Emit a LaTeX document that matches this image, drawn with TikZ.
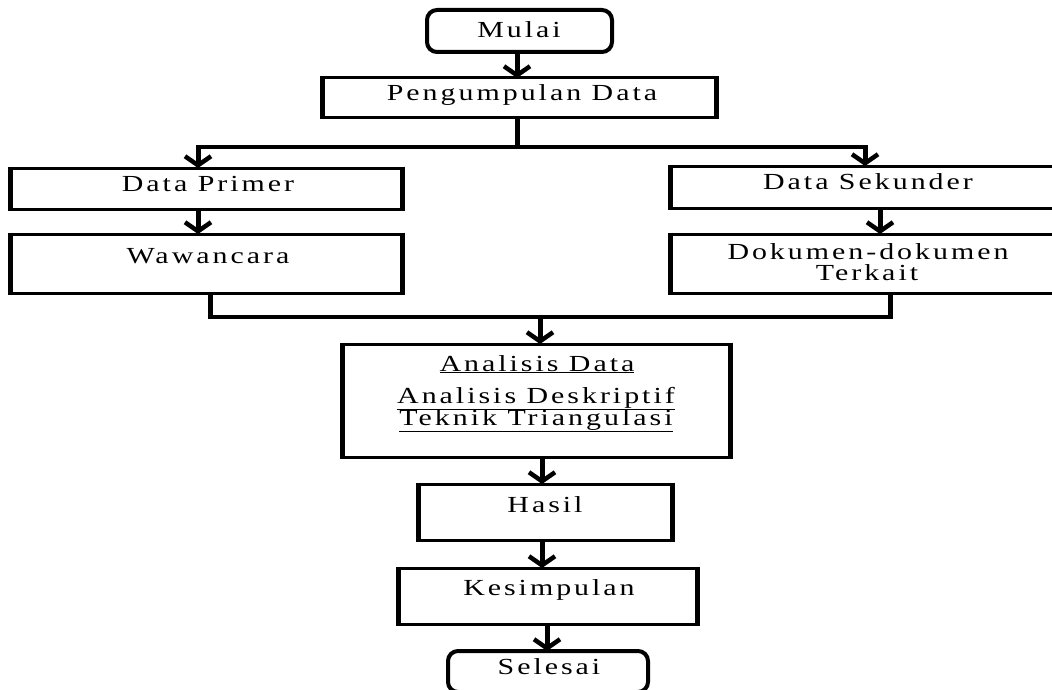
\documentclass[tikz,border=0pt]{standalone}
\usepackage{fontspec}
\usepackage{graphicx}
\setmainfont{Liberation Serif}[LetterSpace=10]
\usetikzlibrary{arrows.meta}
\newcommand\wide[1]{\scalebox{1.3}[1]{#1}}
\begin{document}
\begin{tikzpicture}[x=1pt,y=-1pt,
  box/.style={draw, line width=3pt, rectangle, inner sep=0pt, outer sep=0pt},
  rbox/.style={draw, line width=4pt, rectangle, rounded corners=10pt, inner sep=0pt, outer sep=0pt},
  vside/.style={line width=5pt},
  conn/.style={line width=3.5pt},
  vconn/.style={line width=5pt},
  arr/.style={line width=5pt, -{Straight Barb[length=9pt,width=26pt,line width=4.5pt]}},
  lbl/.style={anchor=base, font=\fontsize{23}{25}\selectfont, inner sep=0pt}]
\useasboundingbox (0,0) rectangle (1052,690);

% boxes
\node[rbox, minimum width=185pt, minimum height=42pt] (mulai) at (519.5,31) {};
\node[box, minimum width=394pt, minimum height=40pt] (peng) at (519,98) {};
\node[box, minimum width=392pt, minimum height=41pt] (prim) at (206,188.5) {};
\node[box, minimum width=392pt, minimum height=59pt] (waw) at (206,263.5) {};
\node[box, minimum width=400pt, minimum height=42pt] (sek) at (870,187) {};
\node[box, minimum width=400pt, minimum height=59pt] (dok) at (870,263.5) {};
\node[box, minimum width=388pt, minimum height=113pt] (ana) at (536,400.5) {};
\node[box, minimum width=254pt, minimum height=56pt] (has) at (545,512) {};
\node[box, minimum width=299pt, minimum height=56pt] (kes) at (547.5,596) {};
\node[rbox, minimum width=200pt, minimum height=41pt] (sel) at (548,671.5) {};

\foreach \n in {peng,prim,waw,sek,dok,ana,has,kes}
  \draw[vside] ([yshift=1.5pt]\n.north west) -- ([yshift=-1.5pt]\n.south west)
               ([yshift=1.5pt]\n.north east) -- ([yshift=-1.5pt]\n.south east);

% texts
\node[lbl] (tmulai) at (519,38) {\wide{Mulai}};
\node[lbl] (tpeng) at (522,101) {\wide{Pengumpulan Data}};
\node[lbl] (tprim) at (208,191) {\wide{Data Primer}};
\node[lbl] (twaw) at (208,263) {\wide{Wawancara}};
\node[lbl] (tsek) at (868,189) {\wide{Data Sekunder}};
\node[lbl] (tdok1) at (868,259) {\wide{Dokumen-dokumen}};
\node[lbl] (tdok2) at (867,280) {\wide{Terkait}};
\node[lbl] (tana1) at (537,371) {\wide{\underline{Analisis Data}}};
\node[lbl] (tana2) at (536,403) {\wide{\underline{Analisis Deskriptif}}};
\node[lbl] (tana3) at (536,425) {\wide{\underline{Teknik Triangulasi}}};
\node[lbl] (thas) at (545,512) {\wide{Hasil}};
\node[lbl] (tkes) at (549,595) {\wide{Kesimpulan}};
\node[lbl] (tsel) at (549,674) {\wide{Selesai}};

% connectors
\coordinate (split) at (517,147);
\coordinate (sL) at (198,147);
\coordinate (sR) at (865,147);
\coordinate (mL) at (210,317);
\coordinate (mR) at (890,317);
\coordinate (mC) at (540,317);

\draw[arr] (517,0 |- mulai.south) -- (517,0 |- peng.north);
\draw[vconn] (split |- peng.south) -- (split);
\draw[conn, line cap=round] (sL) -- (sR);
\draw[arr] ([yshift=1.5pt]sL) -- (sL |- prim.north);
\draw[arr] ([yshift=1.5pt]sR) -- (sR |- sek.north);
\draw[arr] (198,0 |- prim.south) -- (198,0 |- waw.north);
\draw[arr] (880,0 |- sek.south) -- (880,0 |- dok.north);
\draw[vconn] (mL |- waw.south) -- ([yshift=-1.5pt]mL);
\draw[vconn] (mR |- dok.south) -- ([yshift=-1.5pt]mR);
\draw[conn] ([xshift=-2.5pt]mL) -- ([xshift=2.5pt]mR);
\draw[arr] ([yshift=1.5pt]mC) -- (mC |- ana.north);
\draw[arr] (542,0 |- ana.south) -- (542,0 |- has.north);
\draw[arr] (542,0 |- has.south) -- (542,0 |- kes.north);
\draw[arr] (547,0 |- kes.south) -- (547,0 |- sel.north);
\end{tikzpicture}
\end{document}
